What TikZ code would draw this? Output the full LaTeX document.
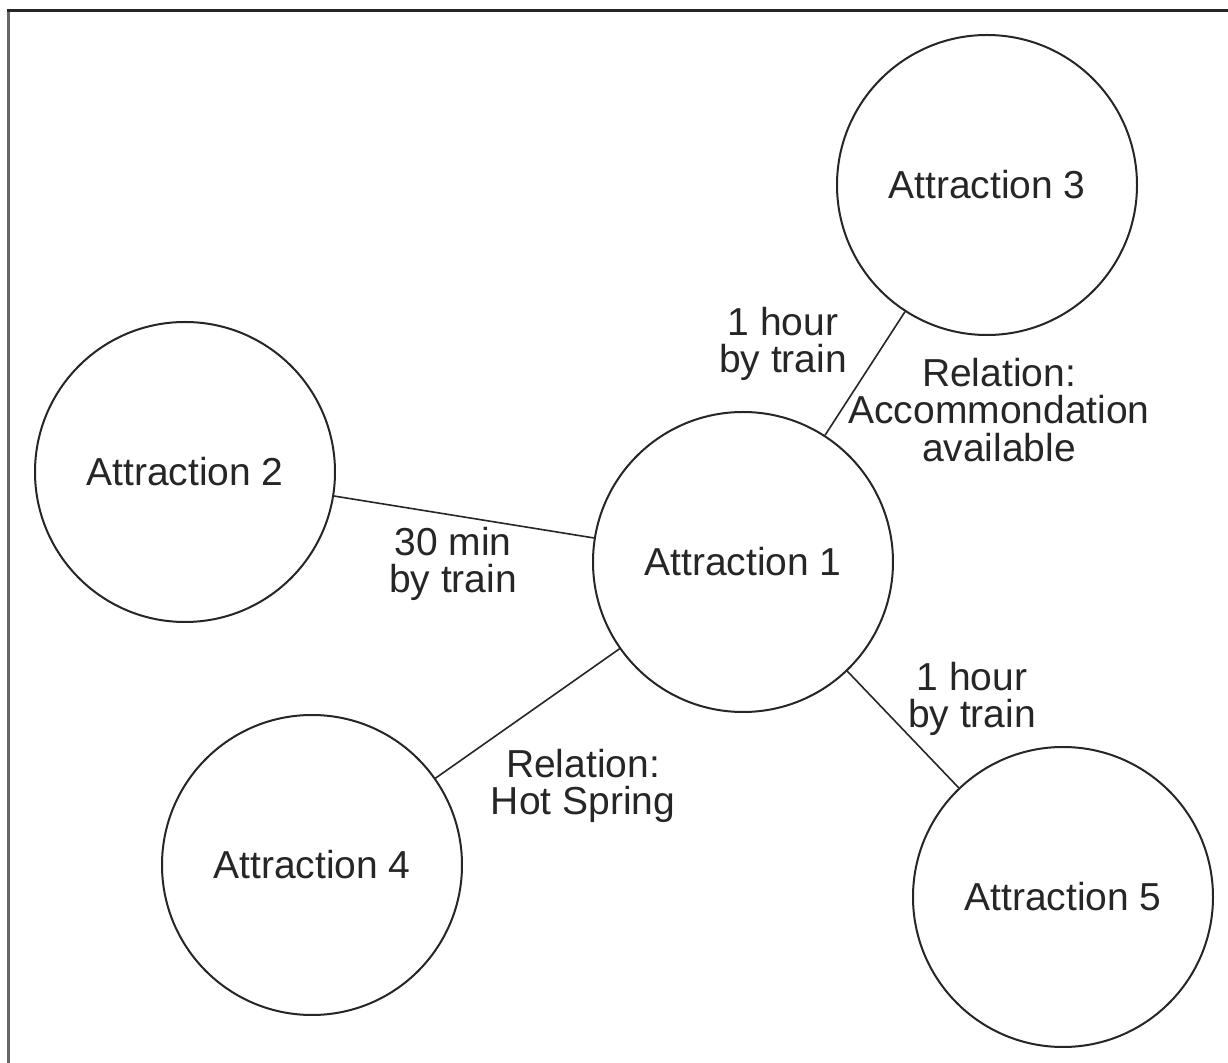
\documentclass[tikz,border=0pt]{standalone}
\usepackage{fontspec}
\setmainfont{Liberation Sans}
\begin{document}
\begin{tikzpicture}[x=0.5pt,y=-0.5pt,
  attr/.style={circle,draw=black!85,line width=1pt,minimum size=150pt,inner sep=0pt,text=black!85,font=\fontsize{19.5}{19}\selectfont},
  lbl/.style={align=center,font=\fontsize{19.5}{18.75}\selectfont,inner sep=0pt,text=black!85},
  link/.style={draw=black!85,line width=0.8pt}]
\useasboundingbox (0,0) rectangle (1228,1063);
\fill[white] (0,0) rectangle (1228,1063);
\draw[line width=1.5pt,black!60] (8,1063) -- (8,11);
\draw[line width=1.5pt,black!85] (7,11) -- (1228,11);

\node[attr] (a1) at (743,562) {Attraction 1};
\node[attr] (a2) at (185,472) {Attraction 2};
\node[attr] (a3) at (987,185) {Attraction 3};
\node[attr] (a4) at (312,865) {Attraction 4};
\node[attr] (a5) at (1063,897) {Attraction 5};

\draw[link] (a2) -- (a1);
\draw[link] (a1) -- (a3);
\draw[link] (a1) -- (a4);
\draw[link] (a1) -- (a5);

\node[lbl] (l13) at (783,344) {1 hour\\by train};
\node[lbl] (r13) at (999,410) {Relation:\\Accommondation\\available};
\node[lbl] (l12) at (453,564) {30 min\\by train};
\node[lbl] (r14) at (583,786) {Relation:\\Hot Spring};
\node[lbl] (l15) at (972,699) {1 hour\\by train};
\end{tikzpicture}
\end{document}
